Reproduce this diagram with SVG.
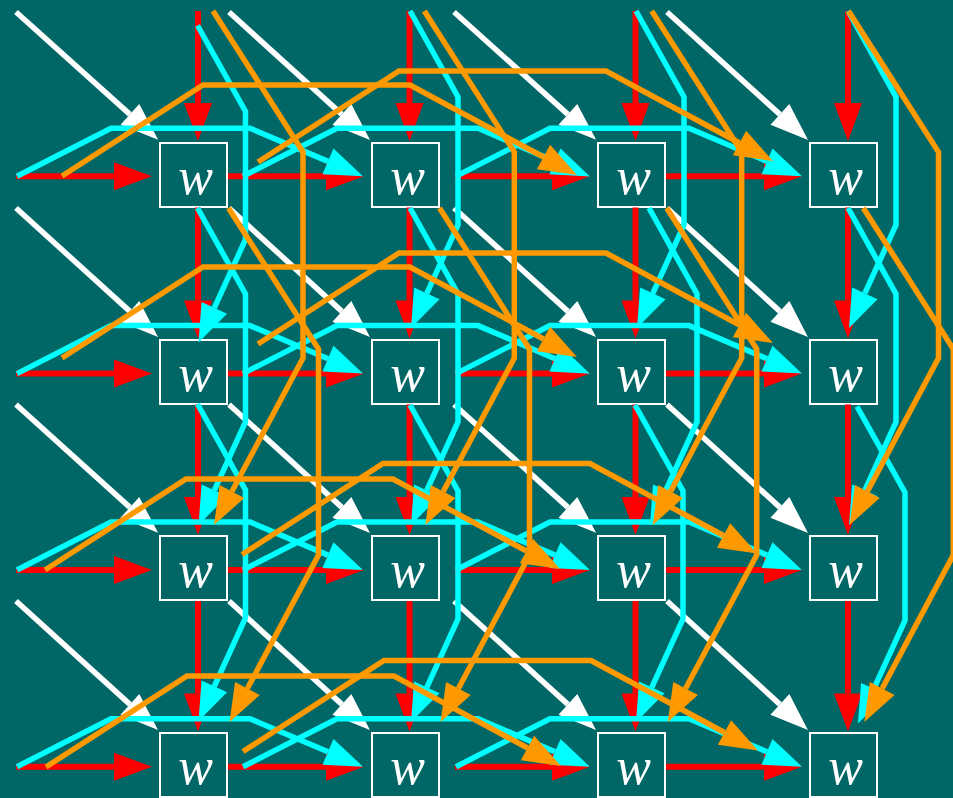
<svg xmlns="http://www.w3.org/2000/svg" width="953" height="798" viewBox="0 0 953 798">
<style>
.bg{fill:#006666}
.box{fill:#006666;stroke:#ffffff;stroke-width:2}
.lbl{font-family:"Liberation Serif","Times New Roman",serif;font-style:italic;font-size:52px;fill:#ffffff;text-anchor:middle}
.e{fill:none;stroke-width:5.5;stroke-linejoin:miter}
.r{stroke:#ff0000;stroke-width:6;marker-end:url(#ar)}
.w{stroke:#ffffff;marker-end:url(#aw)}
.c{stroke:#00ffff;marker-end:url(#ac)}
.o{stroke:#ff9900;marker-end:url(#ao)}
</style>
<defs>
<marker id="ar" markerUnits="userSpaceOnUse" orient="auto" refX="0" refY="0" markerWidth="40" markerHeight="30" overflow="visible"><path d="M0,-14L38,0L0,14Z" fill="#ff0000"/></marker>
<marker id="aw" markerUnits="userSpaceOnUse" orient="auto" refX="0" refY="0" markerWidth="40" markerHeight="30" overflow="visible"><path d="M0,-14L38,0L0,14Z" fill="#ffffff"/></marker>
<marker id="ac" markerUnits="userSpaceOnUse" orient="auto" refX="0" refY="0" markerWidth="40" markerHeight="30" overflow="visible"><path d="M0,-14L38,0L0,14Z" fill="#00ffff"/></marker>
<marker id="ao" markerUnits="userSpaceOnUse" orient="auto" refX="0" refY="0" markerWidth="40" markerHeight="30" overflow="visible"><path d="M0,-14L38,0L0,14Z" fill="#ff9900"/></marker>
</defs>
<rect class="bg" x="0" y="0" width="953" height="798"/>
<g id="nodes">
<g id="n00"><rect class="box" x="160" y="143" width="67" height="64"/><text class="lbl" x="195.5" y="194">w</text></g>
<g id="n01"><rect class="box" x="372" y="143" width="67" height="64"/><text class="lbl" x="407.5" y="194">w</text></g>
<g id="n02"><rect class="box" x="598" y="143" width="67" height="64"/><text class="lbl" x="633.5" y="194">w</text></g>
<g id="n03"><rect class="box" x="810" y="143" width="67" height="64"/><text class="lbl" x="845.5" y="194">w</text></g>
<g id="n10"><rect class="box" x="160" y="340" width="67" height="64"/><text class="lbl" x="195.5" y="391">w</text></g>
<g id="n11"><rect class="box" x="372" y="340" width="67" height="64"/><text class="lbl" x="407.5" y="391">w</text></g>
<g id="n12"><rect class="box" x="598" y="340" width="67" height="64"/><text class="lbl" x="633.5" y="391">w</text></g>
<g id="n13"><rect class="box" x="810" y="340" width="67" height="64"/><text class="lbl" x="845.5" y="391">w</text></g>
<g id="n20"><rect class="box" x="160" y="536" width="67" height="64"/><text class="lbl" x="195.5" y="587">w</text></g>
<g id="n21"><rect class="box" x="372" y="536" width="67" height="64"/><text class="lbl" x="407.5" y="587">w</text></g>
<g id="n22"><rect class="box" x="598" y="536" width="67" height="64"/><text class="lbl" x="633.5" y="587">w</text></g>
<g id="n23"><rect class="box" x="810" y="536" width="67" height="64"/><text class="lbl" x="845.5" y="587">w</text></g>
<g id="n30"><rect class="box" x="160" y="733" width="67" height="64"/><text class="lbl" x="195.5" y="784">w</text></g>
<g id="n31"><rect class="box" x="372" y="733" width="67" height="64"/><text class="lbl" x="407.5" y="784">w</text></g>
<g id="n32"><rect class="box" x="598" y="733" width="67" height="64"/><text class="lbl" x="633.5" y="784">w</text></g>
<g id="n33"><rect class="box" x="810" y="733" width="67" height="64"/><text class="lbl" x="845.5" y="784">w</text></g>
</g>
<g id="connectors">
<g id="red">
<path class="e r" d="M16,176.3H114"/><path class="e r" d="M228,176.3H326"/><path class="e r" d="M455,176.3H552"/><path class="e r" d="M666,176.3H764"/>
<path class="e r" d="M16,373.6H114"/><path class="e r" d="M228,373.6H326"/><path class="e r" d="M455,373.6H552"/><path class="e r" d="M666,373.6H764"/>
<path class="e r" d="M16,570H114"/><path class="e r" d="M228,570H326"/><path class="e r" d="M455,570H552"/><path class="e r" d="M666,570H764"/>
<path class="e r" d="M16,766.7H114"/><path class="e r" d="M228,766.7H326"/><path class="e r" d="M455,766.7H552"/><path class="e r" d="M666,766.7H764"/>
<path class="e r" d="M198,11V103"/><path class="e r" d="M198,207.5V300.5"/><path class="e r" d="M198,404.5V497"/><path class="e r" d="M198,601V693.5"/>
<path class="e r" d="M409.5,11V103"/><path class="e r" d="M409.5,207.5V300.5"/><path class="e r" d="M409.5,404.5V497"/><path class="e r" d="M409.5,601V693.5"/>
<path class="e r" d="M635.5,11V103"/><path class="e r" d="M635.5,207.5V300.5"/><path class="e r" d="M635.5,404.5V497"/><path class="e r" d="M635.5,601V693.5"/>
<path class="e r" d="M848,11V103"/><path class="e r" d="M848,207.5V300.5"/><path class="e r" d="M848,404.5V497"/><path class="e r" d="M848,601V693.5"/>
</g>
<g id="white">
<path class="e w" d="M16,12L129.9,114.4"/><path class="e w" d="M229,12L341.9,114.4"/><path class="e w" d="M454,12L567.9,114.4"/><path class="e w" d="M667,12L779.9,114.4"/>
<path class="e w" d="M16,208L129.9,311.4"/><path class="e w" d="M229,208L341.9,311.4"/><path class="e w" d="M454,208L567.9,311.4"/><path class="e w" d="M667,208L779.9,311.4"/>
<path class="e w" d="M16,404.5L129.9,507.4"/><path class="e w" d="M229,404.5L341.9,507.4"/><path class="e w" d="M454,404.5L567.9,507.4"/><path class="e w" d="M667,404.5L779.9,507.4"/>
<path class="e w" d="M16,601L129.9,704.4"/><path class="e w" d="M229,601L341.9,704.4"/><path class="e w" d="M454,601L567.9,704.4"/><path class="e w" d="M667,601L779.9,704.4"/>
</g>
<g id="cyan">
<path class="e c" d="M17,176.3L111,128.3L250,128.3L328,161.4"/>
<path class="e c" d="M243,176.3L337,128.3L478,128.3L555,161.4"/>
<path class="e c" d="M456,176.3L550,128.3L689,128.3L767,161.4"/>
<path class="e c" d="M17,373.6L111,325.6L250,325.6L328,358.7"/>
<path class="e c" d="M243,373.6L337,325.6L478,325.6L555,358.7"/>
<path class="e c" d="M456,373.6L550,325.6L689,325.6L767,358.7"/>
<path class="e c" d="M17,570L111,522L250,522L328,555.1"/>
<path class="e c" d="M243,570L337,522L478,522L555,555.1"/>
<path class="e c" d="M456,570L550,522L689,522L767,555.1"/>
<path class="e c" d="M17,766.7L111,718.7L250,718.7L328,751.8"/>
<path class="e c" d="M243,766.7L337,718.7L478,718.7L555,751.8"/>
<path class="e c" d="M456,766.7L550,718.7L689,718.7L767,751.8"/>
<path class="e c" d="M197.5,25.5L245.5,111.5L245.5,239.5L214.3,307.9"/>
<path class="e c" d="M197.5,208L245.5,294L245.5,422L214.3,490.4"/>
<path class="e c" d="M197.5,404L245.5,490L245.5,618L214.3,686.4"/>
<path class="e c" d="M410,11L458,97L458,225L426.8,293.4"/>
<path class="e c" d="M410,208L458,294L458,422L426.8,490.4"/>
<path class="e c" d="M410,405L458,491L458,619L426.8,687.4"/>
<path class="e c" d="M636,11L684,97L684,225L652.8,293.4"/>
<path class="e c" d="M649,208L697,294L697,422L665.8,490.4"/>
<path class="e c" d="M635,405L683,491L683,619L651.8,687.4"/>
<path class="e c" d="M848,11L896,97L896,225L864.8,293.4"/>
<path class="e c" d="M848,208L896,294L896,422L864.8,490.4"/>
<path class="e c" d="M857,406.5L905,492.5L905,620.5L873.8,688.9"/>
</g>
<g id="orange">
<path class="e o" d="M62,176L203,85L410,85L543.5,157"/>
<path class="e o" d="M62,358L203,267L410,267L543.5,339"/>
<path class="e o" d="M45,570L186,479L393,479L526.5,551"/>
<path class="e o" d="M46,767L187,676L394,676L527.5,748"/>
<path class="e o" d="M258,162L399,71L606,71L739.5,143"/>
<path class="e o" d="M258,344L399,253L606,253L739.5,325"/>
<path class="e o" d="M242,554.5L383,463.5L590,463.5L723.5,535.5"/>
<path class="e o" d="M243,751.5L384,660.5L591,660.5L724.5,732.5"/>
<path class="e o" d="M213,11L303,152L303,358L231.9,491.5"/>
<path class="e o" d="M228.5,208L318.5,349L318.5,555L247.4,688.5"/>
<path class="e o" d="M424.3,11L514.3,152L514.3,358L443.2,491.5"/>
<path class="e o" d="M439.5,208L529.5,349L529.5,555L458.4,688.5"/>
<path class="e o" d="M651.7,11L741.7,152L741.7,358L670.6,491.5"/>
<path class="e o" d="M666.7,208L756.7,349L756.7,555L685.6,688.5"/>
<path class="e o" d="M848.5,11L938.5,152L938.5,358L867.4,491.5"/>
<path class="e o" d="M863.3,208L953.3,349L953.3,555L882.2,688.5"/>
</g>
</g>
</svg>
